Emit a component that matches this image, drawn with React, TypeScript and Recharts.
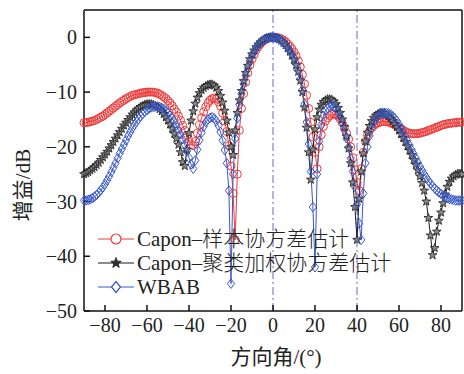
import React from "react";
import {
  LineChart,
  Line,
  XAxis,
  YAxis,
  ReferenceLine,
} from "recharts";

// 方向角 (°)
const angles = [
  -90, -89, -88, -87, -86, -85, -84, -83, -82, -81, -80, -79, -78, -77, -76, -75, -74, -73, -72, -71,
  -70, -69, -68, -67, -66, -65, -64, -63, -62, -61, -60, -59, -58, -57, -56, -55, -54, -53, -52, -51,
  -50, -49, -48, -47, -46, -45, -44, -43, -42, -41, -40, -39, -38, -37, -36, -35, -34, -33, -32, -31,
  -30, -29, -28, -27, -26, -25, -24, -23, -22, -21, -20, -19, -18, -17, -16, -15, -14, -13, -12, -11,
  -10, -9, -8, -7, -6, -5, -4, -3, -2, -1, 0, 1, 2, 3, 4, 5, 6, 7, 8, 9,
  10, 11, 12, 13, 14, 15, 16, 17, 18, 19, 20, 21, 22, 23, 24, 25, 26, 27, 28, 29,
  30, 31, 32, 33, 34, 35, 36, 37, 38, 39, 40, 41, 42, 43, 44, 45, 46, 47, 48, 49,
  50, 51, 52, 53, 54, 55, 56, 57, 58, 59, 60, 61, 62, 63, 64, 65, 66, 67, 68, 69,
  70, 71, 72, 73, 74, 75, 76, 77, 78, 79, 80, 81, 82, 83, 84, 85, 86, 87, 88, 89,
  90,
];

// Capon-样本协方差估计
const caponSample = [
  -15.6, -15.6, -15.5, -15.4, -15.3, -15.2, -15.0, -14.8, -14.6, -14.4, -14.1, -13.8, -13.5, -13.2, -12.9, -12.6, -12.3, -12.0, -11.7, -11.5,
  -11.2, -11.0, -10.8, -10.6, -10.5, -10.4, -10.3, -10.2, -10.1, -10.1, -10.0, -10.0, -10.0, -10.0, -10.1, -10.2, -10.4, -10.6, -10.9, -11.2,
  -11.6, -12.0, -12.5, -13.1, -13.7, -14.4, -15.2, -16.1, -17.0, -18.0, -19.0, -19.6, -19.8, -19.0, -17.5, -16.0, -14.7, -13.6, -12.7, -12.0,
  -11.5, -11.2, -11.1, -11.3, -11.8, -12.6, -13.8, -15.3, -17.2, -19.8, -23.5, -28.5, -37.0, -25.0, -17.0, -13.0, -10.3, -8.2, -6.5, -5.1,
  -4.0, -3.1, -2.3, -1.7, -1.2, -0.8, -0.5, -0.25, -0.1, -0.02, 0, 0, -0.05, -0.15, -0.3, -0.5, -0.8, -1.2, -1.6, -2.1,
  -2.7, -3.4, -4.3, -5.4, -6.8, -8.5, -10.6, -13.0, -15.5, -18.2, -21.0, -24.0, -20.0, -17.8, -16.3, -15.3, -14.7, -14.3, -14.1, -14.0,
  -14.1, -14.4, -14.9, -15.6, -16.5, -17.5, -18.6, -20.0, -22.0, -24.2, -26.5, -28.0, -24.0, -21.0, -19.0, -17.8, -17.0, -16.5, -16.1, -15.8,
  -15.6, -15.5, -15.4, -15.4, -15.4, -15.5, -15.6, -15.8, -16.0, -16.2, -16.5, -16.7, -17.0, -17.2, -17.4, -17.5, -17.6, -17.6, -17.6, -17.6,
  -17.5, -17.4, -17.3, -17.2, -17.0, -16.9, -16.7, -16.6, -16.4, -16.3, -16.1, -16.0, -15.9, -15.8, -15.7, -15.7, -15.6, -15.6, -15.5, -15.5,
  -15.5,
];

// Capon-聚类加权协方差估计
const caponCluster = [
  -25.0, -24.8, -24.6, -24.3, -24.0, -23.7, -23.3, -22.9, -22.4, -21.9, -21.4, -20.9, -20.3, -19.7, -19.1, -18.5, -17.9, -17.3, -16.7, -16.1,
  -15.6, -15.1, -14.6, -14.1, -13.7, -13.3, -13.0, -12.7, -12.5, -12.3, -12.2, -12.2, -12.2, -12.3, -12.5, -12.8, -13.1, -13.5, -14.0, -14.6,
  -15.2, -15.9, -16.7, -17.6, -18.5, -19.6, -21.0, -22.8, -23.5, -20.5, -17.5, -15.2, -13.5, -12.1, -11.0, -10.2, -9.6, -9.2, -8.9, -8.7,
  -8.6, -8.6, -8.8, -9.2, -9.8, -10.7, -11.9, -13.4, -15.2, -17.4, -20.0, -21.5, -17.0, -13.8, -11.5, -9.8, -8.0, -6.5, -5.2, -4.0,
  -3.1, -2.4, -1.8, -1.3, -0.9, -0.55, -0.3, -0.15, -0.05, 0, 0, -0.05, -0.15, -0.35, -0.6, -1.0, -1.4, -2.0, -2.6, -3.3,
  -4.1, -5.1, -6.3, -7.9, -10.0, -12.8, -16.5, -21.0, -26.0, -20.5, -16.8, -14.6, -13.2, -12.3, -11.8, -11.5, -11.3, -11.3, -11.4, -11.7,
  -12.2, -12.9, -13.8, -15.0, -16.4, -18.1, -20.3, -23.0, -26.5, -31.0, -37.0, -29.5, -24.5, -21.2, -19.0, -17.4, -16.2, -15.3, -14.7, -14.3,
  -14.0, -13.8, -13.8, -13.9, -14.1, -14.4, -14.8, -15.3, -15.8, -16.4, -17.0, -17.7, -18.4, -19.1, -19.9, -20.7, -21.5, -22.4, -23.3, -24.3,
  -25.4, -26.6, -28.0, -30.0, -33.0, -36.2, -39.8, -38.5, -35.5, -33.5, -32.0, -30.3, -28.7, -27.3, -26.4, -25.8, -25.4, -25.1, -24.9, -24.9,
  -25.0,
];

// WBAB
const wbab = [
  -29.8, -29.8, -29.7, -29.6, -29.4, -29.1, -28.8, -28.4, -27.9, -27.4, -26.8, -26.1, -25.4, -24.6, -23.8, -23.0, -22.1, -21.2, -20.4, -19.6,
  -18.8, -18.0, -17.3, -16.6, -16.0, -15.4, -14.9, -14.4, -14.0, -13.6, -13.3, -13.0, -12.8, -12.7, -12.6, -12.6, -12.7, -12.9, -13.1, -13.4,
  -13.8, -14.3, -14.8, -15.4, -16.1, -16.9, -17.7, -18.6, -19.6, -20.8, -22.0, -23.2, -24.0, -22.5, -20.5, -18.8, -17.4, -16.3, -15.5, -15.0,
  -14.7, -14.6, -14.8, -15.3, -16.1, -17.3, -18.8, -20.6, -23.0, -28.0, -45.0, -25.0, -18.5, -14.8, -12.3, -10.3, -8.5, -6.9, -5.5, -4.3,
  -3.3, -2.6, -1.9, -1.4, -0.95, -0.6, -0.35, -0.15, -0.05, 0, 0, -0.05, -0.15, -0.35, -0.6, -0.95, -1.4, -1.9, -2.5, -3.1,
  -3.8, -4.8, -6.0, -7.6, -9.6, -12.2, -15.5, -19.5, -24.5, -31.0, -42.0, -25.0, -19.0, -16.0, -14.3, -13.4, -12.9, -12.6, -12.5, -12.6,
  -13.0, -13.6, -14.5, -15.6, -16.9, -18.4, -20.1, -22.1, -24.5, -27.3, -30.5, -34.0, -37.0, -28.5, -23.0, -20.0, -18.0, -16.6, -15.6, -14.9,
  -14.4, -14.1, -13.9, -13.8, -13.8, -13.9, -14.1, -14.4, -14.8, -15.3, -15.9, -16.6, -17.3, -18.1, -18.9, -19.7, -20.5, -21.3, -22.1, -22.9,
  -23.6, -24.3, -25.0, -25.6, -26.2, -26.7, -27.2, -27.6, -28.0, -28.3, -28.6, -28.9, -29.1, -29.3, -29.5, -29.6, -29.7, -29.8, -29.8, -29.8,
  -29.8,
];

const xTicks = [-80, -60, -40, -20, 0, 20, 40, 60, 80];
const yTicks = [0, -10, -20, -30, -40, -50];
const markerLines = [0, 40];

const RED = "#ee3a3a";
const BLACK = "#1a1a1a";
const BLUE = "#3858c8";
const REF = "#6e62cc";
const FONT = "'Liberation Serif', 'Noto Sans CJK SC', serif";

const data = angles.map((a, i) => ({
  angle: a,
  sample: caponSample[i],
  cluster: caponCluster[i],
  wbab: wbab[i],
}));

const fmt = (v: number) => (v < 0 ? `\u2212${-v}` : `${v}`);

function starPath(cx: number, cy: number, R: number, r: number) {
  let d = "";
  for (let k = 0; k < 10; k++) {
    const rad = k % 2 === 0 ? R : r;
    const t = -Math.PI / 2 + (k * Math.PI) / 5;
    d += `${k === 0 ? "M" : "L"}${cx + rad * Math.cos(t)},${cy + rad * Math.sin(t)}`;
  }
  return d + "Z";
}

const CircleDot = (p: any) => (
  <circle key={p.index} cx={p.cx} cy={p.cy} r={4} fill="none" stroke={RED} strokeWidth={1} />
);
const StarDot = (p: any) => (
  <path key={p.index} d={starPath(p.cx, p.cy, 4.6, 1.9)} fill="#888" stroke={BLACK} strokeWidth={0.8} />
);
const DiamondDot = (p: any) => (
  <path
    key={p.index}
    d={`M${p.cx},${p.cy - 4.8}L${p.cx + 3.6},${p.cy}L${p.cx},${p.cy + 4.8}L${p.cx - 3.6},${p.cy}Z`}
    fill="none"
    stroke={BLUE}
    strokeWidth={1}
  />
);

const legendRows = [
  { label: "Capon–", cjk: "样本协方差估计", color: RED, kind: "circle" },
  { label: "Capon–", cjk: "聚类加权协方差估计", color: BLACK, kind: "star" },
  { label: "WBAB", cjk: "", color: BLUE, kind: "diamond" },
];

function LegendMarker({ kind, color }: { kind: string; color: string }) {
  return (
    <svg width={36} height={20} style={{ display: "block" }}>
      <line x1={0} y1={10} x2={36} y2={10} stroke={color} strokeWidth={1} />
      {kind === "circle" && <circle cx={18} cy={10} r={5} fill="white" stroke={color} strokeWidth={1.2} />}
      {kind === "star" && <path d={starPath(18, 10, 5.5, 2.3)} fill="#333" stroke={color} strokeWidth={0.8} />}
      {kind === "diamond" && (
        <path d="M18,4.5L22.5,10L18,15.5L13.5,10Z" fill="white" stroke={color} strokeWidth={1.2} />
      )}
    </svg>
  );
}

export default function App() {
  return (
    <div style={{ position: "absolute", left: 0, top: 0, width: 464, height: 374, background: "#fff", fontFamily: FONT }}>
      <LineChart
        width={464}
        height={374}
        data={data}
        margin={{ top: 9, right: 1, bottom: 0, left: 24 }}
      >
        <XAxis
          dataKey="angle"
          type="number"
          domain={[-90, 90]}
          ticks={xTicks}
          tickFormatter={fmt}
          tickSize={-6}
          tickMargin={13}
          height={63}
          stroke="#111"
          strokeWidth={1.5}
          tick={{ fontSize: 20, fill: "#222", fontFamily: FONT }}
        />
        <XAxis
          xAxisId="top"
          orientation="top"
          dataKey="angle"
          type="number"
          domain={[-90, 90]}
          ticks={xTicks}
          tick={false}
          tickLine={false}
          height={1}
          stroke="#111"
          strokeWidth={1.5}
        />
        <YAxis
          type="number"
          domain={[-50, 5]}
          ticks={yTicks}
          tickFormatter={fmt}
          tickSize={-6}
          tickMargin={13}
          width={60}
          stroke="#111"
          strokeWidth={1.5}
          allowDataOverflow
          tick={{ fontSize: 20, fill: "#222", fontFamily: FONT }}
        />
        <YAxis
          yAxisId="right"
          orientation="right"
          type="number"
          domain={[-50, 5]}
          ticks={yTicks}
          tick={false}
          tickSize={-5}
          width={1}
          stroke="#111"
          strokeWidth={1.5}
          allowDataOverflow
        />
        {markerLines.map((x) => (
          <ReferenceLine key={x} x={x} stroke={REF} strokeWidth={1} strokeDasharray="8 3 2 3" />
        ))}
        <Line
          type="linear"
          dataKey="sample"
          stroke={RED}
          strokeWidth={1}
          dot={CircleDot}
          isAnimationActive={false}
        />
        <Line
          type="linear"
          dataKey="cluster"
          stroke={BLACK}
          strokeWidth={1}
          dot={StarDot}
          isAnimationActive={false}
        />
        <Line
          type="linear"
          dataKey="wbab"
          stroke={BLUE}
          strokeWidth={1}
          dot={DiamondDot}
          isAnimationActive={false}
        />
      </LineChart>

      {/* 图例 */}
      <div style={{ position: "absolute", left: 98, top: 227 }}>
        {legendRows.map((r, i) => (
          <div key={i} style={{ display: "flex", alignItems: "center", height: 24, whiteSpace: "nowrap" }}>
            <LegendMarker kind={r.kind} color={r.color} />
            <span style={{ marginLeft: 3, fontSize: 21, color: "#222", lineHeight: "24px" }}>
              {r.label}
              <span style={{ fontSize: 21, fontWeight: 300 }}>{r.cjk}</span>
            </span>
          </div>
        ))}
      </div>

      {/* 坐标轴标题 */}
      <div
        style={{
          position: "absolute",
          left: 276,
          top: 355,
          transform: "translate(-50%, -50%)",
          fontSize: 21,
          color: "#222",
          whiteSpace: "nowrap",
        }}
      >
        方向角/(°)
      </div>
      <div
        style={{
          position: "absolute",
          left: 21,
          top: 185,
          transform: "translate(-50%, -50%) rotate(-90deg)",
          fontSize: 21,
          color: "#222",
          whiteSpace: "nowrap",
        }}
      >
        增益/dB
      </div>
    </div>
  );
}
